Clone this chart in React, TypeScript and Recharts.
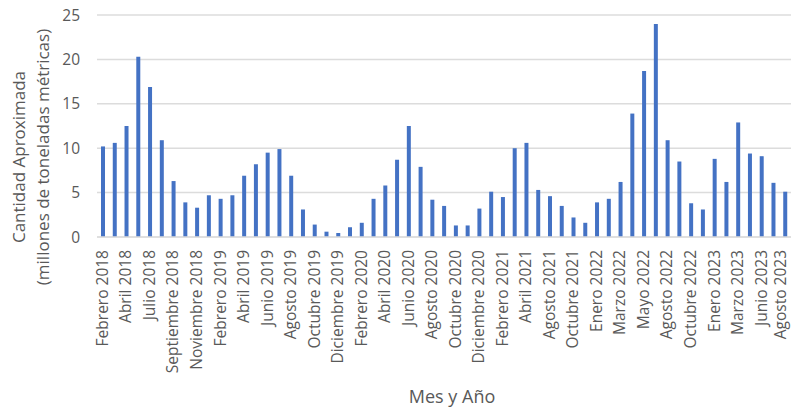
import { BarChart, Bar, XAxis, YAxis, CartesianGrid, Label } from 'recharts'

// Meses con dato (la serie no es continua: algunos meses faltan)
const meses = [
  'Febrero 2018', 'Marzo 2018', 'Abril 2018', 'Mayo 2018', 'Julio 2018', 'Agosto 2018',
  'Septiembre 2018', 'Octubre 2018', 'Noviembre 2018', 'Diciembre 2018', 'Febrero 2019',
  'Marzo 2019', 'Abril 2019', 'Mayo 2019', 'Junio 2019', 'Julio 2019', 'Agosto 2019',
  'Septiembre 2019', 'Octubre 2019', 'Noviembre 2019', 'Diciembre 2019', 'Enero 2020',
  'Febrero 2020', 'Marzo 2020', 'Abril 2020', 'Mayo 2020', 'Junio 2020', 'Julio 2020',
  'Agosto 2020', 'Septiembre 2020', 'Octubre 2020', 'Noviembre 2020', 'Diciembre 2020',
  'Enero 2021', 'Febrero 2021', 'Marzo 2021', 'Abril 2021', 'Junio 2021', 'Agosto 2021',
  'Septiembre 2021', 'Octubre 2021', 'Diciembre 2021', 'Enero 2022', 'Febrero 2022',
  'Marzo 2022', 'Abril 2022', 'Mayo 2022', 'Junio 2022', 'Agosto 2022', 'Septiembre 2022',
  'Octubre 2022', 'Diciembre 2022', 'Enero 2023', 'Febrero 2023', 'Marzo 2023', 'Mayo 2023',
  'Junio 2023', 'Julio 2023', 'Agosto 2023',
]

// millones de toneladas métricas
const cantidad = [
  10.2, 10.6, 12.5, 20.3, 16.9, 10.9, 6.3, 3.9, 3.3, 4.7, 4.3, 4.7, 6.9, 8.2, 9.5, 9.9,
  6.9, 3.1, 1.4, 0.6, 0.45, 1.1, 1.6, 4.3, 5.8, 8.7, 12.5, 7.9, 4.2, 3.5, 1.3, 1.3,
  3.2, 5.1, 4.5, 10.0, 10.6, 5.3, 4.6, 3.5, 2.2, 1.6, 3.9, 4.3, 6.2, 13.9, 18.7, 24.0,
  10.9, 8.5, 3.8, 3.1, 8.8, 6.2, 12.9, 9.4, 9.1, 6.1, 5.1,
]

const yTicks = [0, 5, 10, 15, 20, 25]

const data = meses.map((mes, i) => ({ mes, cantidad: cantidad[i] }))

const FONT = '"Open Sans", sans-serif'
const TEXT = '#595959'

// etiqueta de mes girada, con el final pegado al eje
const MonthTick = ({ x, y, payload }: { x?: number; y?: number; payload?: { value: string; index: number } }) => {
  // la última queda junto al borde derecho: se corre un poco a la izquierda
  const shift = payload && payload.index === meses.length - 1 ? -5 : -1
  return (
    <g transform={`translate(${x},${y})`}>
      <text
        x={-5}
        y={0}
        dy={shift}
        transform="rotate(-90)"
        textAnchor="end"
        dominantBaseline="central"
        fontFamily={FONT}
        fontSize={15.5}
        fill={TEXT}
      >
        {payload?.value}
      </text>
    </g>
  )
}

const YTitle = ({ viewBox }: { viewBox?: { x: number; y: number; width: number; height: number } }) => {
  if (!viewBox) return null
  const cy = viewBox.y + viewBox.height / 2 + 31
  return (
    <g fontFamily={FONT} fontSize={17} fill={TEXT} textAnchor="middle">
      <text transform={`translate(${viewBox.x + 18},${cy}) rotate(-90)`} dominantBaseline="central">
        Cantidad Aproximada
      </text>
      <text transform={`translate(${viewBox.x + 42},${cy}) rotate(-90)`} dominantBaseline="central">
        (millones de toneladas métricas)
      </text>
    </g>
  )
}

export default function App() {
  return (
    <div style={{ width: 791, height: 410, background: '#fff' }}>
      <style>{'body{margin:0}'}</style>
      <BarChart width={791} height={410} data={data} margin={{ top: 15, right: 0, bottom: 0, left: 0 }}>
        <CartesianGrid vertical={false} stroke="#dcdcdc" strokeWidth={1.5} />
        <XAxis
          dataKey="mes"
          interval={1}
          height={173}
          tickLine={false}
          axisLine={{ stroke: '#dcdcdc', strokeWidth: 1.5 }}
          tick={<MonthTick />}
        >
          <Label
            value="Mes y Año"
            position="insideBottom"
            offset={7}
            dx={8}
            style={{ fontFamily: FONT, fontSize: 18, fill: TEXT }}
          />
        </XAxis>
        <YAxis
          width={97}
          domain={[0, 25]}
          ticks={yTicks}
          axisLine={false}
          tickLine={false}
          tickSize={0}
          tickMargin={17}
          tick={{ fontFamily: FONT, fontSize: 15.5, fill: TEXT }}
        >
          <Label content={<YTitle />} />
        </YAxis>
        <Bar dataKey="cantidad" fill="#4472C4" barSize={4} isAnimationActive={false} />
      </BarChart>
    </div>
  )
}
